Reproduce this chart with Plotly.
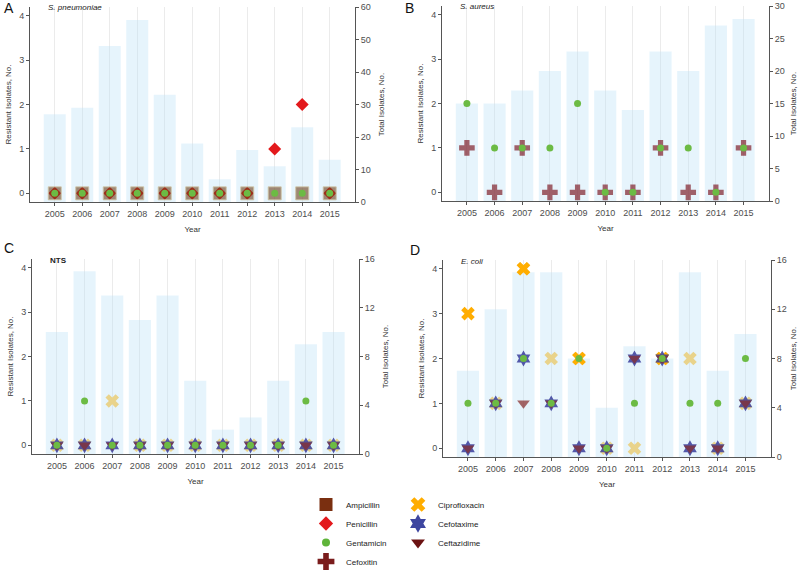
#!/usr/bin/env python3

import plotly.graph_objects as go

years = [2005, 2006, 2007, 2008, 2009, 2010, 2011, 2012, 2013, 2014, 2015]

# A: S. pneumoniae
sp_total      = [27, 29, 48, 56, 33, 18, 7, 16, 11, 23, 13]
sp_ampicillin = [0, 0, 0, 0, 0, 0, 0, 0, 0, 0, 0]
sp_penicillin = [0, 0, 0, 0, 0, 0, 0, 0, 1, 2, 0]
sp_gentamicin = [0, 0, 0, 0, 0, 0, 0, 0, 0, 0, 0]

# B: S. aureus
sa_total      = [15, 15, 17, 20, 23, 17, 14, 23, 20, 27, 28]
sa_cefoxitin  = [1, 0, 1, 0, 0, 0, 0, 1, 0, 0, 1]
sa_gentamicin = [2, 1, 1, 1, 2, 0, 0, 1, 1, 0, 1]

# C: NTS
nts_total        = [10, 15, 13, 11, 13, 6, 2, 3, 6, 9, 10]
nts_cipro_light  = [0, 0, 1, 0, 0, 0, 0, 0, 0, 0, 0]
nts_cefotaxime   = [0, 0, 0, 0, 0, 0, 0, 0, 0, 0, 0]
nts_ceftazidime  = [0, 0, 0, 0, 0, 0, 0, 0, 0, 0, 0]
nts_gentamicin   = [0, 1, 0, 0, 0, 0, 0, 0, 0, 1, 0]

# D: E. coli
ec_total        = [7, 12, 15, 15, 8, 4, 9, 8, 15, 7, 10]
ec_cipro_light  = [None, 1, 4, 2, 2, 0, 0, 2, 2, 0, 1]
ec_cipro        = [3, None, 4, None, 2, None, None, 2, None, None, None]
ec_cefotaxime   = [0, 1, 2, 1, 0, 0, 2, 2, 0, 0, 1]
ec_ceftazidime  = [0, 1, 1, 1, 0, 0, 2, 2, 0, 0, 1]
ec_gentamicin   = [1, 1, 2, 1, 2, 0, 1, 2, 1, 1, 2]

panel_letters = ["A", "B", "C", "D"]
species       = ["<i>S. pneumoniae</i>", "<i>S. aureus</i>", "<b>NTS</b>", "<i>E. coli</i>"]
right_max     = [60, 30, 16, 16]
right_step    = [10, 5, 4, 4]

FONT = "Liberation Sans, Arial, sans-serif"
AXIS_COL = "#555555"
TICK_COL = "#4D4D4D"
BAR_COL = "rgba(190,225,247,0.38)"

# drug styles: (symbol, plot colour, legend colour, size)
style = {
    "Ampicillin":    ("square",        "rgba(110,62,25,0.6)",  "#7A2F10", 13),
    "Penicillin":    ("diamond",       "#E3191C",              "#E3191C", 10),
    "Gentamicin":    ("circle",        "#6CBB44",              "#5FB43A", 7),
    "Cefoxitin":     ("cross",         "rgba(125,25,35,0.68)", "#7A1C1C", 13),
    "Ciprofloxacin": ("x",             "#FFAD00",              "#FFAD00", 12),
    "Cefotaxime":    ("hexagram",      "rgba(55,60,155,0.85)", "#3E46A0", 12),
    "Ceftazidime":   ("triangle-down", "rgba(135,45,45,0.72)", "#6B1212", 11),
}
CIPRO_LIGHT = "#E9D38B"

# plot areas in pixels (left, right, top, bottom) of a 798x573 page
W, H = 798, 573
boxes = [(30, 355, 7, 202), (442, 769, 6, 201), (32, 359, 259, 454), (443, 771, 260, 457)]

fig = go.Figure()


def marker_trace(i, name, values, color=None, symbol=None):
    sym, col, _, size = style[name]
    line = dict(width=0)
    if name == "Ampicillin":
        line = dict(width=1, color="rgba(205,195,165,0.9)")
    fig.add_trace(go.Scatter(
        x=years, y=values, mode="markers", name=name, showlegend=False,
        marker=dict(symbol=symbol or sym, color=color or col, size=size, line=line),
        xaxis=f"x{i + 1}", yaxis=f"y{2 * i + 2}", hoverinfo="x+y+name"))


totals = [sp_total, sa_total, nts_total, ec_total]
for i, tot in enumerate(totals):
    fig.add_trace(go.Bar(x=years, y=tot, width=0.8, marker=dict(color=BAR_COL, line=dict(width=0)),
                         showlegend=False, name="Total", xaxis=f"x{i + 1}", yaxis=f"y{2 * i + 1}"))

# A
marker_trace(0, "Penicillin", sp_penicillin)
marker_trace(0, "Ampicillin", sp_ampicillin)
marker_trace(0, "Gentamicin", sp_gentamicin)
# B
marker_trace(1, "Cefoxitin", sa_cefoxitin)
marker_trace(1, "Gentamicin", sa_gentamicin)
# C
marker_trace(2, "Ciprofloxacin", nts_cipro_light, color=CIPRO_LIGHT)
marker_trace(2, "Cefotaxime", nts_cefotaxime)
marker_trace(2, "Ceftazidime", nts_ceftazidime)
marker_trace(2, "Gentamicin", nts_gentamicin)
# D
marker_trace(3, "Ciprofloxacin", ec_cipro_light, color=CIPRO_LIGHT)
marker_trace(3, "Ciprofloxacin", ec_cipro)
marker_trace(3, "Cefotaxime", ec_cefotaxime)
marker_trace(3, "Ceftazidime", ec_ceftazidime)
marker_trace(3, "Gentamicin", ec_gentamicin)

# legend entries (solid colours)
left_col = ["Ampicillin", "Penicillin", "Gentamicin", "Cefoxitin"]
right_col = ["Ciprofloxacin", "Cefotaxime", "Ceftazidime"]
leg_size = {"Ampicillin": 13, "Penicillin": 11, "Gentamicin": 8, "Cefoxitin": 14,
            "Ciprofloxacin": 13, "Cefotaxime": 14, "Ceftazidime": 12}
for leg, names in (("legend", left_col), ("legend2", right_col)):
    for name in names:
        sym, _, lcol, _ = style[name]
        fig.add_trace(go.Scatter(
            x=[None], y=[None], mode="markers", name=name, legend=leg, legendgroup=name,
            marker=dict(symbol=sym, color=lcol, size=leg_size[name], line=dict(width=0)),
            xaxis="x1", yaxis="y2"))

layout = dict(
    width=W, height=H, paper_bgcolor="white", plot_bgcolor="white",
    margin=dict(l=0, r=0, t=0, b=0, autoexpand=False),
    font=dict(family=FONT, size=9, color="#333333"),
    bargap=0.2,
)

annotations = []
for i, (l, r, t, b) in enumerate(boxes):
    xd = [l / W, r / W]
    yd = [1 - b / H, 1 - t / H]
    layout[f"xaxis{i + 1}"] = dict(
        domain=xd, range=[2004.1, 2015.92], tickvals=years, ticks="outside", ticklen=3,
        tickcolor=AXIS_COL, showline=True, linecolor=AXIS_COL, linewidth=1,
        showgrid=True, gridcolor="#EBEBEB", gridwidth=1, zeroline=False, automargin=False,
        tickfont=dict(size=9, color=TICK_COL), anchor=f"y{2 * i + 2}",
        title=dict(text="Year", font=dict(size=8, color="#333333"), standoff=8))
    layout[f"yaxis{2 * i + 1}"] = dict(
        domain=yd, range=[0, right_max[i]], dtick=right_step[i], side="right",
        anchor=f"x{i + 1}", showline=True, linecolor=AXIS_COL, linewidth=1,
        ticks="outside", ticklen=3, tickcolor=AXIS_COL, showgrid=False, zeroline=False,
        automargin=False, tickfont=dict(size=9, color=TICK_COL),
        title=dict(text="Total Isolates, No.", font=dict(size=8, color="#333333"), standoff=8))
    layout[f"yaxis{2 * i + 2}"] = dict(
        domain=yd, range=[-0.195, 4.195], dtick=1, side="left", overlaying=f"y{2 * i + 1}",
        anchor=f"x{i + 1}", showline=True, linecolor=AXIS_COL, linewidth=1,
        ticks="outside", ticklen=3, tickcolor=AXIS_COL, showgrid=False, zeroline=False,
        automargin=False, tickfont=dict(size=9, color=TICK_COL),
        title=dict(text="Resistant Isolates, No.", font=dict(size=8, color="#333333"), standoff=6))
    annotations.append(dict(text=species[i], x=(l + 16) / W, y=1 - (t + 1) / H, xref="paper", yref="paper",
                            xanchor="left", yanchor="middle", showarrow=False,
                            font=dict(size=8, color="#222222")))

letter_pos = [(2, 8), (403, 8), (2, 248), (408, 250)]
for letter, (px_, py_) in zip(panel_letters, letter_pos):
    annotations.append(dict(text=letter, x=px_ / W, y=1 - py_ / H, xref="paper", yref="paper",
                            xanchor="left", yanchor="middle", showarrow=False,
                            font=dict(size=14, color="#111111")))

layout["annotations"] = annotations
layout["legend"] = dict(x=306 / W, y=1 - 490 / H, xanchor="left", yanchor="top",
                        font=dict(size=8, color="#222222"), bgcolor="rgba(0,0,0,0)",
                        tracegroupgap=0, itemclick=False)
layout["legend2"] = dict(x=398 / W, y=1 - 490 / H, xanchor="left", yanchor="top",
                         font=dict(size=8, color="#222222"), bgcolor="rgba(0,0,0,0)",
                         tracegroupgap=0, itemclick=False)
fig.update_layout(**layout)

# the page's default body margin would shift the figure by 8px
fig.write_html("out.html", config={"displayModeBar": False},
               post_script="document.body.style.margin = '0';")
